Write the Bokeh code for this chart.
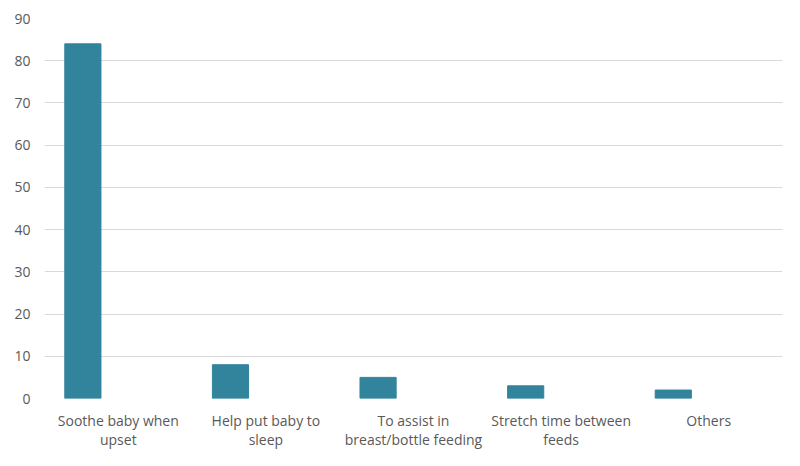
from bokeh.plotting import figure
from bokeh.models import FactorRange, Range1d, SingleIntervalTicker
from bokeh.transform import dodge
from bokeh.embed import file_html
from bokeh.resources import INLINE

categories = ["Soothe baby when\nupset", "Help put baby to\nsleep",
              "To assist in\nbreast/bottle feeding", "Stretch time between\nfeeds", "Others"]
values = [84, 8, 5, 3, 2]

FONT = "Open Sans"
GRAY = "#595959"

p = figure(x_range=FactorRange(*categories), y_range=Range1d(0, 90),
           width=792, height=458, output_backend="svg", toolbar_location=None,
           min_border_left=44, min_border_right=10, min_border_top=18, min_border_bottom=60)

p.vbar(x=dodge("cat", -0.24, range=p.x_range), top="val", width=0.245,
       source=dict(cat=categories, val=values), color="#31849B")

p.outline_line_color = None
p.xgrid.grid_line_color = None
p.ygrid.grid_line_color = "#D9D9D9"
p.ygrid.ticker = SingleIntervalTicker(interval=10)
p.yaxis.ticker = SingleIntervalTicker(interval=10)

for ax in (p.xaxis, p.yaxis):
    ax.axis_line_color = None
    ax.major_tick_line_color = None
    ax.minor_tick_line_color = None
    ax.major_label_text_font = FONT
    ax.major_label_text_font_size = "14px"
    ax.major_label_text_color = GRAY
p.yaxis.major_label_standoff = 10
p.xaxis.major_label_standoff = 12
p.xaxis.major_label_text_line_height = 1.0
p.xaxis.major_tick_out = 0
p.yaxis.major_tick_out = 0
p.xaxis.major_label_orientation = "horizontal"

open("out.html", "w").write(file_html(p, INLINE))
